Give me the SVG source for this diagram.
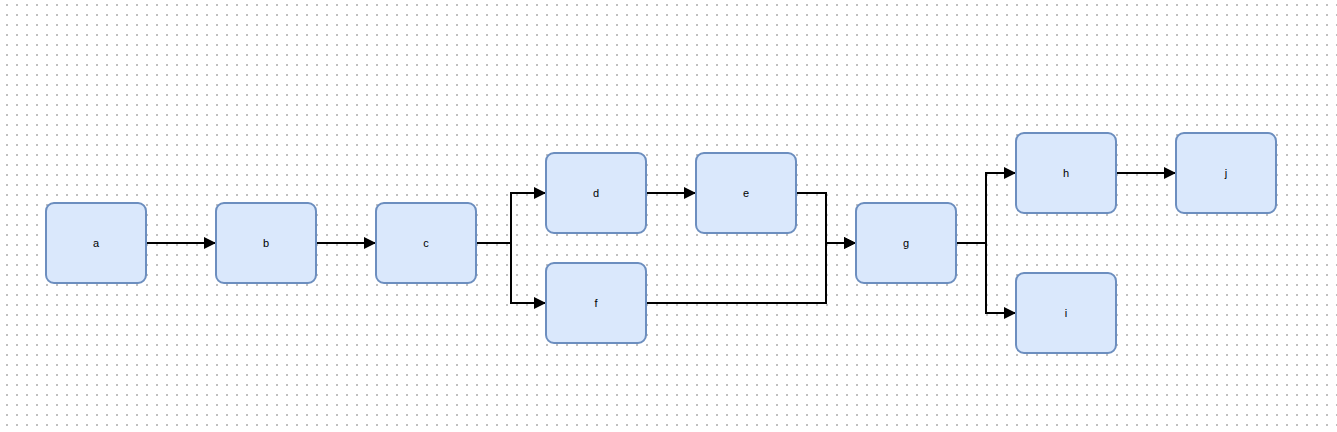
<svg xmlns="http://www.w3.org/2000/svg" width="1337" height="432" viewBox="0 0 1337 432">
<style>
.node rect{fill:#dae8fc;stroke:#6c8ebf;stroke-width:2}
.node text{font-family:"Liberation Sans",Arial,sans-serif;font-size:11px;fill:#000;text-anchor:middle;dominant-baseline:central}
.edge{fill:none;stroke:#000;stroke-width:2;marker-end:url(#arr)}
</style>
<defs>
<pattern id="grid" x="0" y="0" width="10" height="10" patternUnits="userSpaceOnUse">
<rect x="6" y="4" width="2" height="2" fill="#c0c0c0"/>
</pattern>
<marker id="arr" viewBox="0 0 12 12" refX="12" refY="6" markerWidth="12" markerHeight="12" markerUnits="userSpaceOnUse" orient="auto">
<path d="M0,0 L12,6 L0,12 Z" fill="#000"/>
</marker>
</defs>
<rect width="1337" height="432" fill="#fff"/>
<rect width="1337" height="432" fill="url(#grid)"/>
<g id="connectors">
<path class="edge" d="M146,243 H216"/>
<path class="edge" d="M316,243 H376"/>
<path class="edge" d="M476,243 H511 V193 H546"/>
<path class="edge" d="M476,243 H511 V303 H546"/>
<path class="edge" d="M646,193 H696"/>
<path class="edge" d="M796,193 H826 V243 H856"/>
<path class="edge" d="M646,303 H826 V243 H856"/>
<path class="edge" d="M956,243 H986 V173 H1016"/>
<path class="edge" d="M956,243 H986 V313 H1016"/>
<path class="edge" d="M1116,173 H1176"/>
</g>
<g id="node-a" class="node"><rect x="46" y="203" width="100" height="80" rx="8"/><text x="96" y="243">a</text></g>
<g id="node-b" class="node"><rect x="216" y="203" width="100" height="80" rx="8"/><text x="266" y="243">b</text></g>
<g id="node-c" class="node"><rect x="376" y="203" width="100" height="80" rx="8"/><text x="426" y="243">c</text></g>
<g id="node-d" class="node"><rect x="546" y="153" width="100" height="80" rx="8"/><text x="596" y="193">d</text></g>
<g id="node-e" class="node"><rect x="696" y="153" width="100" height="80" rx="8"/><text x="746" y="193">e</text></g>
<g id="node-f" class="node"><rect x="546" y="263" width="100" height="80" rx="8"/><text x="596" y="303">f</text></g>
<g id="node-g" class="node"><rect x="856" y="203" width="100" height="80" rx="8"/><text x="906" y="243">g</text></g>
<g id="node-h" class="node"><rect x="1016" y="133" width="100" height="80" rx="8"/><text x="1066" y="173">h</text></g>
<g id="node-i" class="node"><rect x="1016" y="273" width="100" height="80" rx="8"/><text x="1066" y="313">i</text></g>
<g id="node-j" class="node"><rect x="1176" y="133" width="100" height="80" rx="8"/><text x="1226" y="173">j</text></g>
</svg>
